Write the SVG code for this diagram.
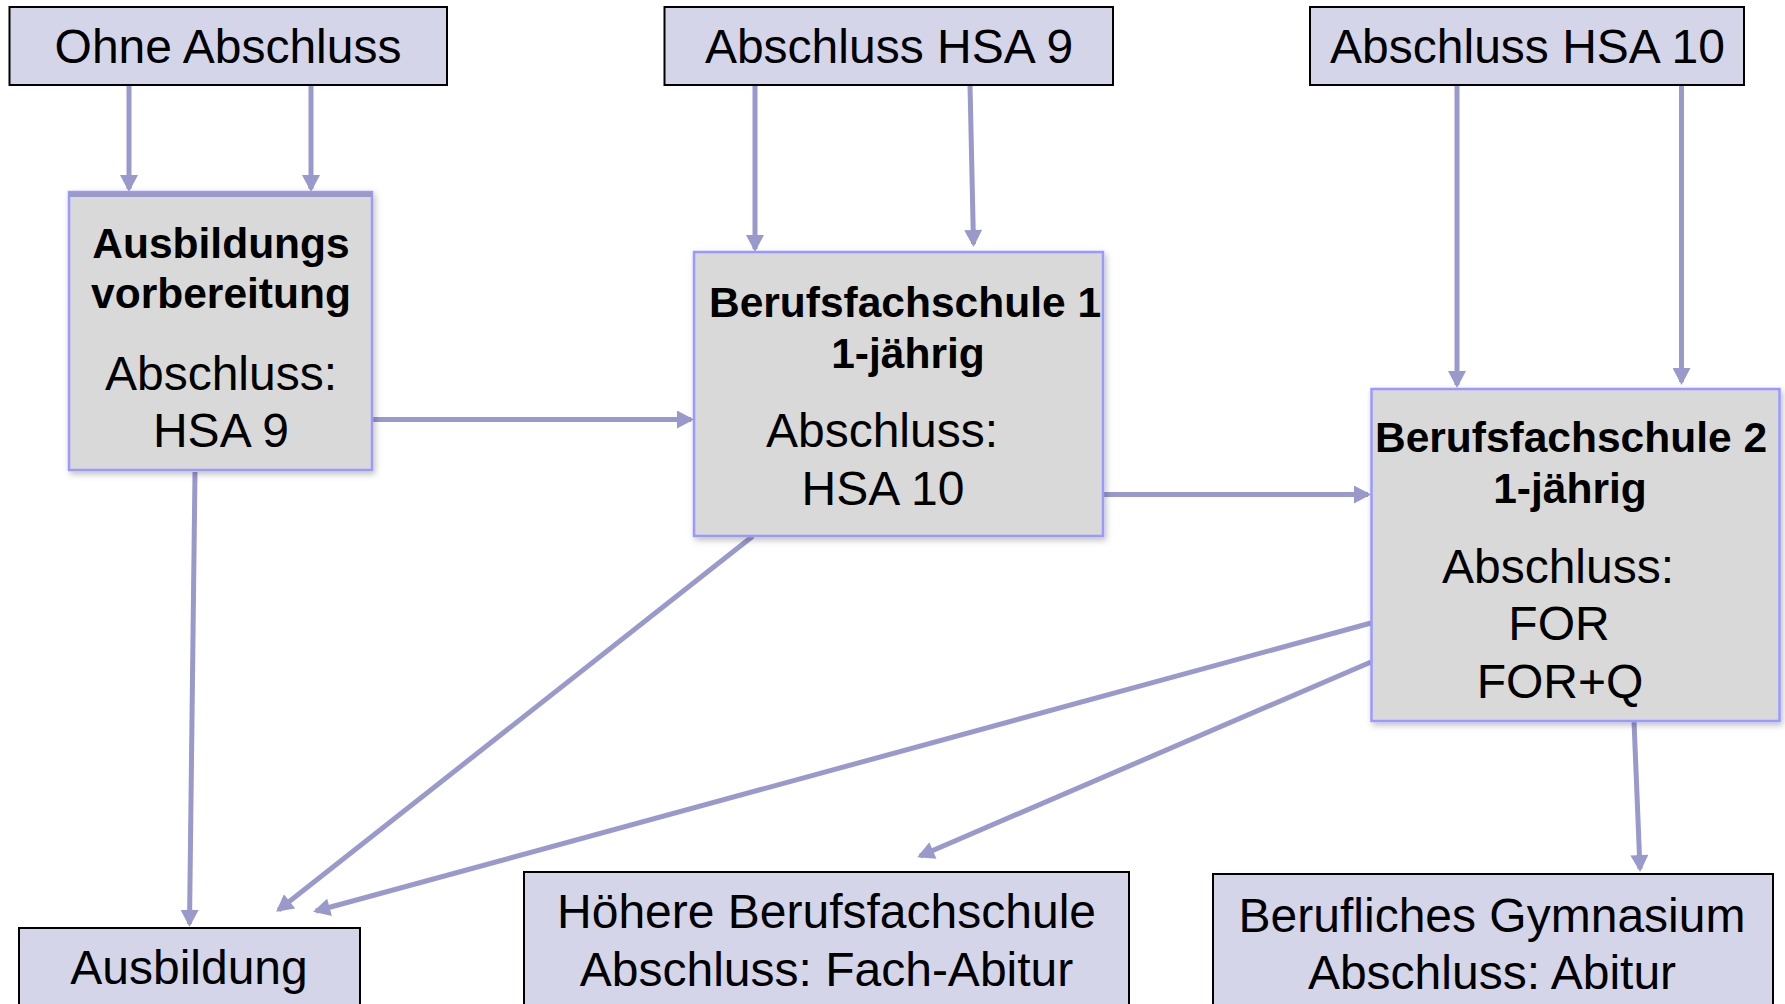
<svg xmlns="http://www.w3.org/2000/svg" width="1785" height="1004" viewBox="0 0 1785 1004">
<defs>
<style>
.top{fill:#d5d5ea;stroke:#000;stroke-width:2}
.mid{fill:#d9d9d9;stroke:#9999ff;stroke-width:2.5;filter:url(#sh)}
.t{font-family:"Liberation Sans",Arial,sans-serif;font-size:48px;fill:#000;text-anchor:middle}
.b{font-family:"Liberation Sans",Arial,sans-serif;font-size:42.5px;font-weight:bold;fill:#000;text-anchor:middle}
.c{fill:none;stroke:#9999cc;stroke-width:5;marker-end:url(#ah)}
</style>
<filter id="sh" x="-10%" y="-10%" width="130%" height="130%">
<feDropShadow dx="2" dy="3" stdDeviation="3" flood-color="#000" flood-opacity="0.25"/>
</filter>
<marker id="ah" markerUnits="userSpaceOnUse" markerWidth="18" markerHeight="18" viewBox="0 0 17 18" refX="14" refY="9" orient="auto">
<path d="M0,0 L17,9 L0,18 z" fill="#9999cc"/>
</marker>
</defs>
<rect width="1785" height="1004" fill="#fff"/>

<g id="connectors">
<line class="c" x1="129" y1="85" x2="129" y2="189"/>
<line class="c" x1="311" y1="85" x2="311" y2="189"/>
<line class="c" x1="755" y1="85" x2="755" y2="249"/>
<line class="c" x1="970" y1="85" x2="973.5" y2="244"/>
<line class="c" x1="1457" y1="85" x2="1457" y2="385"/>
<line class="c" x1="1681.5" y1="85" x2="1681.5" y2="382"/>
<line class="c" x1="372" y1="419.5" x2="691" y2="419.5"/>
<line class="c" x1="1103" y1="494.5" x2="1368" y2="494.5"/>
<line class="c" x1="195" y1="472" x2="189.5" y2="924"/>
<line class="c" x1="753" y1="536" x2="278.5" y2="910"/>
<line class="c" x1="1371" y1="623" x2="316" y2="911"/>
<line class="c" x1="1371" y1="662" x2="920" y2="856"/>
<line class="c" x1="1634" y1="721" x2="1640" y2="869"/>
</g>

<g id="ohne">
<rect class="top" x="9.5" y="7" width="437.5" height="78"/>
<text class="t" x="228" y="63">Ohne Abschluss</text>
</g>
<g id="hsa9">
<rect class="top" x="664.5" y="7" width="448.5" height="78"/>
<text class="t" x="889" y="63">Abschluss HSA 9</text>
</g>
<g id="hsa10">
<rect class="top" x="1310" y="7" width="434" height="78"/>
<text class="t" x="1527.5" y="63">Abschluss HSA 10</text>
</g>

<g id="ausbildungsvorbereitung">
<rect class="mid" x="69" y="192" width="303" height="278"/>
<line x1="69" y1="194.5" x2="372" y2="194.5" stroke="#9999cc" stroke-width="5"/>
<text class="b" x="221" y="258">Ausbildungs</text>
<text class="b" x="221" y="308">vorbereitung</text>
<text class="t" x="221" y="390">Abschluss:</text>
<text class="t" x="221" y="447">HSA 9</text>
</g>

<g id="bfs1">
<rect class="mid" x="694" y="252" width="409" height="284"/>
<text class="b" x="905" y="317">Berufsfachschule 1</text>
<text class="b" x="908" y="368">1-jährig</text>
<text class="t" x="882" y="447">Abschluss:</text>
<text class="t" x="883" y="505">HSA 10</text>
</g>

<g id="bfs2">
<rect class="mid" x="1371.5" y="389" width="408" height="332"/>
<text class="b" x="1571" y="452">Berufsfachschule 2</text>
<text class="b" x="1570" y="503">1-jährig</text>
<text class="t" x="1558" y="583">Abschluss:</text>
<text class="t" x="1559" y="640">FOR</text>
<text class="t" x="1560" y="698">FOR+Q</text>
</g>

<g id="ausbildung">
<rect class="top" x="19" y="928" width="341" height="100"/>
<text class="t" x="189" y="984">Ausbildung</text>
</g>
<g id="hoehere">
<rect class="top" x="524" y="872" width="605" height="160"/>
<text class="t" x="826.5" y="928">Höhere Berufsfachschule</text>
<text class="t" x="826.5" y="986">Abschluss: Fach-Abitur</text>
</g>
<g id="gymnasium">
<rect class="top" x="1213" y="874" width="560" height="160"/>
<text class="t" x="1492" y="932">Berufliches Gymnasium</text>
<text class="t" x="1492" y="989">Abschluss: Abitur</text>
</g>
</svg>
